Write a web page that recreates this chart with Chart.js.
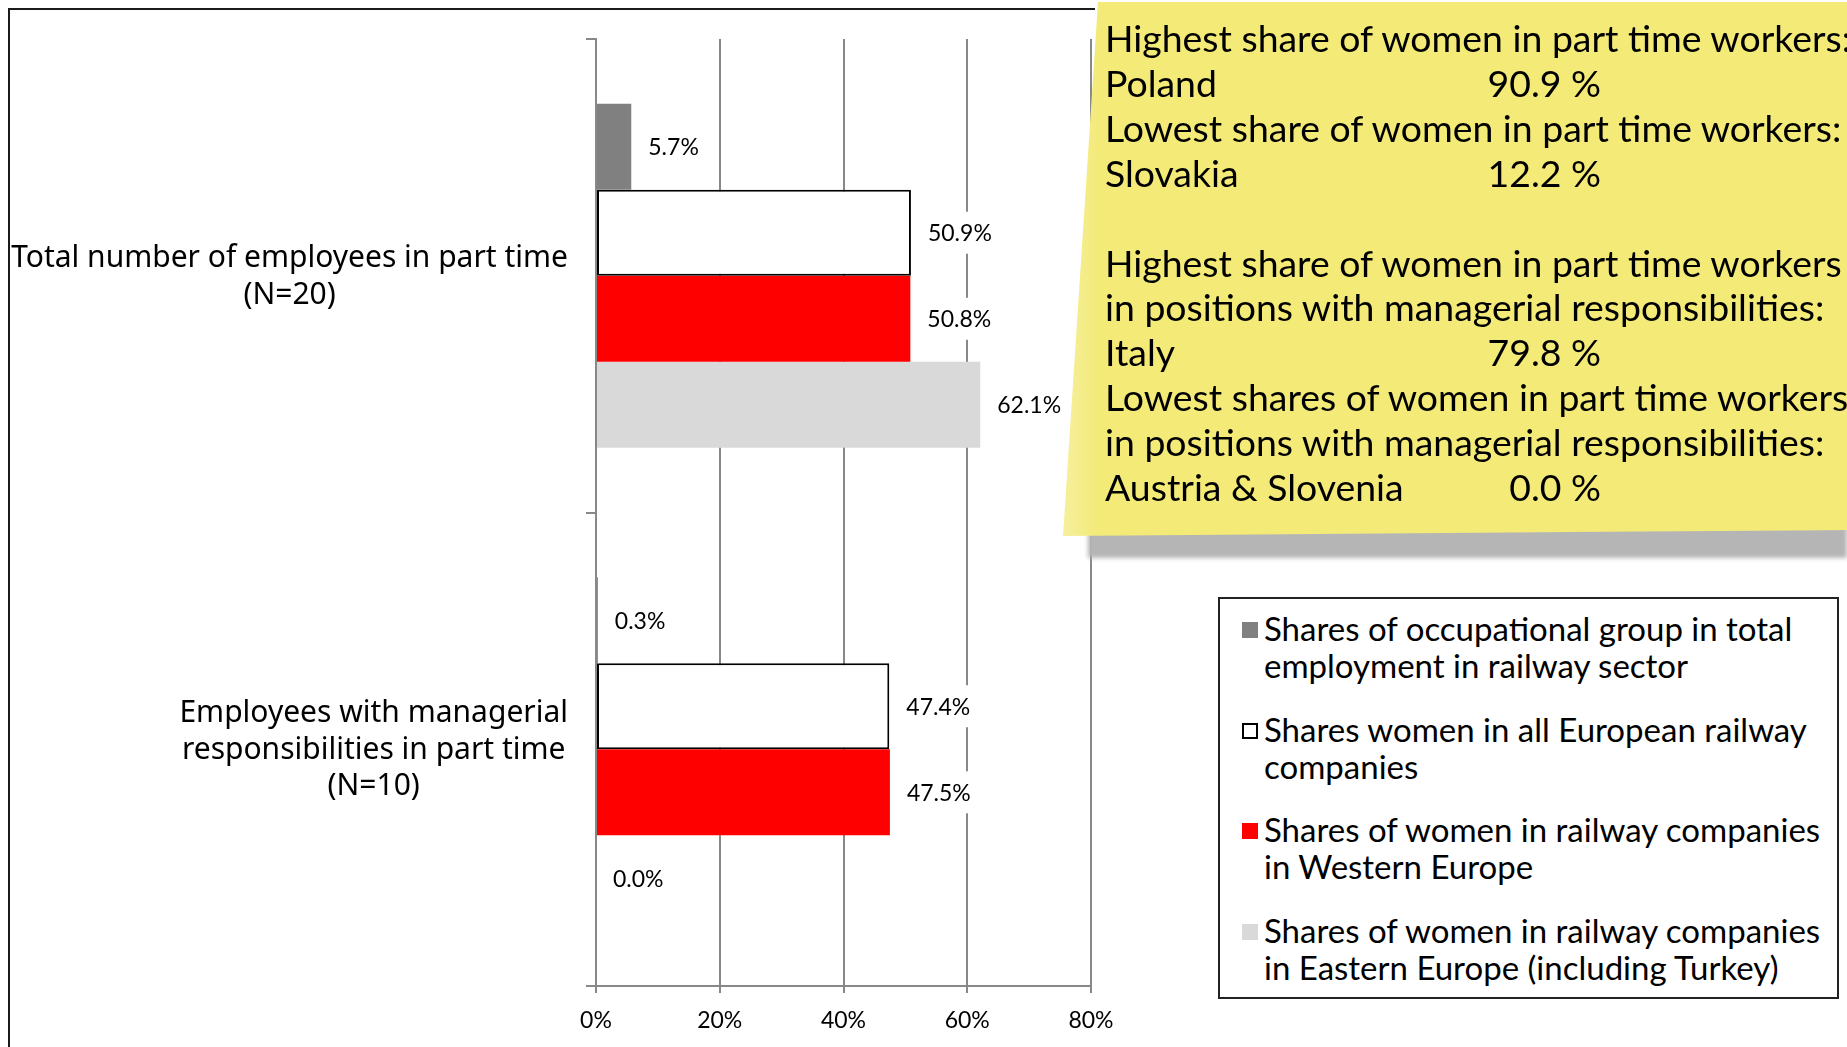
<!DOCTYPE html>
<html>
<head>
<meta charset="utf-8">
<script src="https://cdn.jsdelivr.net/npm/chart.js@4.4.1/dist/chart.umd.min.js"></script>
<style>
  html, body { margin: 0; padding: 0; background: #fff; overflow: hidden; }
  body { width: 1847px; height: 1047px; position: relative; font-family: Lato, "Noto Sans", sans-serif; }
  #chart { position: absolute; left: 0; top: 0; }
  #frame { position: absolute; left: 8px; top: 8px; width: 1085px; height: 1100px;
           border-top: 2px solid #1a1a1a; border-left: 2px solid #1a1a1a; }
  #shadow { position: absolute; left: 1088px; top: 526px; width: 759px; height: 32px;
            background: #b5b5b5; filter: blur(2px); }
  #note { position: absolute; left: 1060px; top: 0; width: 787px; height: 540px;
          background: linear-gradient(90deg, #f6f0a0 0px, #f3ea78 40px, #f3ea78 100%);
          clip-path: polygon(38px 2px, 787px 2px, 787px 530px, 3px 536px); }
  .nl { position: absolute; left: 45px; font-size: 37.4px; line-height: 44px; white-space: nowrap; color: #000; }
  .nv { position: absolute; right: 246px; font-size: 37.4px; line-height: 44px; white-space: nowrap; color: #000; }
  #legend { position: absolute; left: 1218px; top: 597px; width: 617px; height: 398px;
            border: 2px solid #222; background: #fff; }
  .li { position: absolute; left: 44px; font-size: 33px; line-height: 37px; white-space: nowrap; color: #000; }
  .lm { position: absolute; left: 22px; width: 16px; height: 16px; box-sizing: border-box; }
</style>
</head>
<body>
<canvas id="chart" width="1847" height="1047"></canvas>
<div id="frame"></div>
<div id="shadow"></div>
<div id="note"></div>
<div id="legend"></div>
<script>
// categories and series
var categories = [
  ['Total number of employees in part time', '(N=20)'],
  ['Employees with managerial', 'responsibilities in part time', '(N=10)']
];
var seriesNames = [
  ['Shares of occupational group in total', 'employment in railway sector'],
  ['Shares women in all European railway', 'companies'],
  ['Shares of women in railway companies', 'in Western Europe'],
  ['Shares of women in railway companies', 'in Eastern Europe (including Turkey)']
];
var occupationalShare = [5.7, 0.3];
var allEurope = [50.9, 47.4];
var westernEurope = [50.8, 47.5];
var easternEurope = [62.1, 0.0];
var seriesColors = ['#808080', '#ffffff', '#ff0000', '#d9d9d9'];
var xTicks = [0, 20, 40, 60, 80];

// note text
var noteLines = [
  ['Highest share of women in part time workers:', ''],
  ['Poland', '90.9 %'],
  ['Lowest share of women in part time workers:', ''],
  ['Slovakia', '12.2 %'],
  ['', ''],
  ['Highest share of women in part time workers', ''],
  ['in positions with managerial responsibilities:', ''],
  ['Italy', '79.8 %'],
  ['Lowest shares of women in part time workers', ''],
  ['in positions with managerial responsibilities:', ''],
  ['Austria & Slovenia', '0.0 %']
];

var note = document.getElementById('note');
noteLines.forEach(function (l, i) {
  var top = 16 + i * 44.9;
  if (l[0]) {
    var a = document.createElement('div');
    a.className = 'nl'; a.style.top = top + 'px'; a.textContent = l[0];
    note.appendChild(a);
  }
  if (l[1]) {
    var b = document.createElement('div');
    b.className = 'nv'; b.style.top = top + 'px'; b.textContent = l[1];
    note.appendChild(b);
  }
});

var legend = document.getElementById('legend');
var itemTops = [11, 112, 212, 313];
seriesNames.forEach(function (lines, i) {
  var m = document.createElement('div');
  m.className = 'lm';
  m.style.top = (itemTops[i] + 12) + 'px';
  m.style.background = seriesColors[i];
  if (seriesColors[i] === '#ffffff') m.style.border = '2px solid #000';
  legend.appendChild(m);
  lines.forEach(function (t, j) {
    var d = document.createElement('div');
    d.className = 'li';
    d.style.top = (itemTops[i] + j * 37) + 'px';
    d.textContent = t;
    legend.appendChild(d);
  });
});

var labelFont = '23px Lato';

var valueLabels = {
  id: 'valueLabels',
  afterDatasetsDraw: function (chart) {
    var ctx = chart.ctx;
    ctx.save();
    ctx.font = labelFont;
    ctx.textBaseline = 'middle';
    ctx.textAlign = 'left';
    chart.data.datasets.forEach(function (ds, di) {
      chart.getDatasetMeta(di).data.forEach(function (bar, i) {
        var txt = ds.data[i].toFixed(1) + '%';
        var w = ctx.measureText(txt).width;
        var x = bar.x + 17;
        ctx.fillStyle = '#fff';
        ctx.fillRect(x - 4, bar.y - 21, w + 8, 42);
        ctx.fillStyle = '#000';
        ctx.fillText(txt, x, bar.y + 1);
      });
    });
    ctx.restore();
  }
};

var categoryLabels = {
  id: 'categoryLabels',
  afterDraw: function (chart) {
    var ctx = chart.ctx;
    var yScale = chart.scales.y;
    ctx.save();
    ctx.font = '30px "Noto Sans"';
    ctx.fillStyle = '#000';
    ctx.textAlign = 'center';
    ctx.textBaseline = 'middle';
    categories.forEach(function (lines, i) {
      var maxW = 0;
      lines.forEach(function (t) { maxW = Math.max(maxW, ctx.measureText(t).width); });
      var cx = chart.chartArea.left - 28 - maxW / 2;
      var cy = yScale.getPixelForTick(i);
      var lh = 36.5;
      lines.forEach(function (t, j) {
        ctx.fillText(t, cx, cy + 1 + (j - (lines.length - 1) / 2) * lh);
      });
    });
    ctx.restore();
  }
};

var datos = {
  labels: categories.map(function (c) { return c.join(' '); }),
  datasets: [
    { label: seriesNames[0].join(' '), data: occupationalShare, backgroundColor: seriesColors[0], borderWidth: 0 },
    { label: seriesNames[1].join(' '), data: allEurope, backgroundColor: seriesColors[1],
      borderColor: '#000', borderWidth: 2, borderSkipped: false },
    { label: seriesNames[2].join(' '), data: westernEurope, backgroundColor: seriesColors[2], borderWidth: 0 },
    { label: seriesNames[3].join(' '), data: easternEurope, backgroundColor: seriesColors[3], borderWidth: 0 }
  ]
};

var opciones = {
  indexAxis: 'y',
  responsive: false,
  animation: false,
  layout: { padding: { top: 39, right: 756, bottom: 0, left: 0 } },
  datasets: { bar: { categoryPercentage: 0.727, barPercentage: 1.0 } },
  plugins: { legend: { display: false }, tooltip: { enabled: false } },
  scales: {
    x: {
      min: 0, max: 80,
      afterFit: function (s) { s.height = 61; },
      afterBuildTicks: function (s) { s.ticks = xTicks.map(function (v) { return { value: v }; }); },
      ticks: { callback: function (v) { return v + '%'; }, color: '#000', font: { family: 'Lato', size: 23 }, padding: 14 },
      grid: { color: '#888', lineWidth: 2, tickLength: 7 },
      border: { color: '#888', width: 2 }
    },
    y: {
      afterFit: function (s) { s.width = 596; },
      ticks: { display: false },
      grid: { offset: true, drawOnChartArea: false, color: '#888', lineWidth: 2, tickLength: 10 },
      border: { color: '#888', width: 2 }
    }
  }
};

var contexto = document.getElementById('chart').getContext('2d');
var grafico = new Chart(contexto, {
  type: 'bar',
  data: datos,
  options: opciones,
  plugins: [valueLabels, categoryLabels]
});
</script>
</body>
</html>
